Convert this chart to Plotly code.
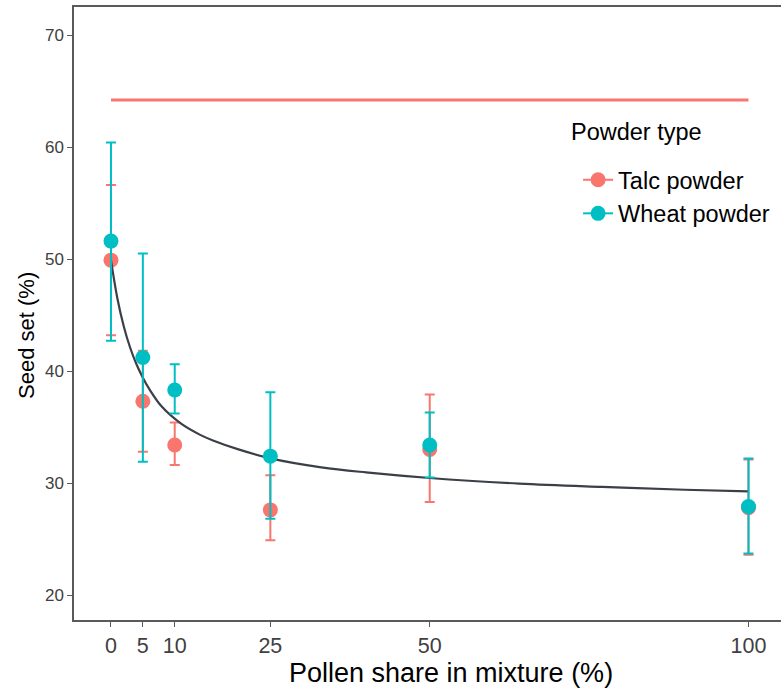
import plotly.graph_objects as go

# ---- data ----
x_levels = [0, 5, 10, 25, 50, 100]

talc_mean = [49.9, 37.3, 33.4, 27.6, 33.0, 27.8]
talc_lo = [43.2, 32.8, 31.6, 24.9, 28.3, 23.6]
talc_hi = [56.6, 41.8, 35.4, 30.7, 37.9, 32.1]

wheat_mean = [51.6, 41.2, 38.3, 32.4, 33.4, 27.9]
wheat_lo = [42.7, 31.9, 36.2, 26.8, 30.5, 23.7]
wheat_hi = [60.4, 50.5, 40.6, 38.1, 36.3, 32.2]

fit_x = [0, 1, 2, 3, 4, 5, 6, 8, 11, 14, 16, 20, 25, 33, 40, 50, 64, 77, 90, 100]
fit_y = [49.9, 46.5, 44.0, 42.1, 40.6, 39.4, 38.4, 36.8, 35.3, 34.3, 33.8, 33.0,
         32.2, 31.4, 30.95, 30.45, 29.95, 29.65, 29.4, 29.25]

ctrl_x = [0, 100]
ctrl_y = [64.2, 64.2]

y_ticks = [20, 30, 40, 50, 60, 70]
series_names = ["Talc powder", "Wheat powder"]
legend_title = "Powder type"
x_title = "Pollen share in mixture (%)"
y_title = "Seed set (%)"

TALC = "#F8766D"
WHEAT = "#00BFC4"
FONT = "Liberation Sans, Arial, Helvetica, sans-serif"

fig = go.Figure()

# control line
fig.add_trace(go.Scatter(x=ctrl_x, y=ctrl_y, mode="lines",
                         line=dict(color=TALC, width=3), showlegend=False,
                         hoverinfo="skip"))

def err(mean, lo, hi):
    plus = [h - m for m, h in zip(mean, hi)]
    minus = [m - l for m, l in zip(mean, lo)]
    return plus, minus

tp, tm = err(talc_mean, talc_lo, talc_hi)
fig.add_trace(go.Scatter(
    x=x_levels, y=talc_mean, mode="markers",
    marker=dict(color=TALC, size=15),
    error_y=dict(type="data", array=tp, arrayminus=tm, color=TALC,
                 thickness=2, width=5),
    showlegend=False))

fig.add_trace(go.Scatter(x=fit_x, y=fit_y, mode="lines", line_shape="spline",
                         line=dict(color="#3b3f48", width=2.2), showlegend=False))

wp, wm = err(wheat_mean, wheat_lo, wheat_hi)
fig.add_trace(go.Scatter(
    x=x_levels, y=wheat_mean, mode="markers",
    marker=dict(color=WHEAT, size=15),
    error_y=dict(type="data", array=wp, arrayminus=wm, color=WHEAT,
                 thickness=2, width=5),
    showlegend=False))

# legend entries
for name, col in zip(series_names, [TALC, WHEAT]):
    fig.add_trace(go.Scatter(x=[None], y=[None], mode="lines+markers", name=name,
                             line=dict(color=col, width=2),
                             marker=dict(color=col, size=15)))

fig.update_layout(
    width=781, height=691,
    margin=dict(l=74, r=0, t=7, b=71),
    plot_bgcolor="white", paper_bgcolor="white",
    font=dict(family=FONT, color="#000000"),
    legend=dict(
        font=dict(size=23.5, color="#000000"),
        x=0.713, y=(620 - 158) / 613, xanchor="left", yanchor="top",
        bgcolor="rgba(0,0,0,0)", itemwidth=30, tracegroupgap=0,
    ),
    xaxis=dict(
        range=[-5.8, 105.1], tickvals=x_levels, ticktext=[str(v) for v in x_levels],
        showline=True, mirror=True, linecolor="#5a5a5a", linewidth=1.5,
        ticks="outside", ticklen=5, tickcolor="#5a5a5a", tickwidth=1.2,
        tickfont=dict(size=21.5, color="#404040"),
        showgrid=False, zeroline=False,
    ),
    yaxis=dict(
        range=[17.77, 72.5], tickvals=y_ticks, ticktext=[str(v) for v in y_ticks],
        showline=True, mirror=False, linecolor="#5a5a5a", linewidth=1.5,
        ticks="outside", ticklen=5, tickcolor="#5a5a5a", tickwidth=1.2,
        tickfont=dict(size=17, color="#404040"),
        showgrid=False, zeroline=False,
    ),
    annotations=[
        dict(text=x_title, xref="paper", yref="paper", x=0.533, y=(620 - 673) / 613,
             xanchor="center", yanchor="middle", showarrow=False,
             font=dict(size=27, color="#000000")),
        dict(text=y_title, xref="paper", yref="paper", x=-0.0665, y=0.465,
             xanchor="center", yanchor="middle", textangle=-90, showarrow=False,
             font=dict(size=22, color="#000000")),
        dict(text=legend_title, xref="paper", yref="paper",
             x=(569 - 74) / 707, y=(620 - 132) / 613,
             xanchor="left", yanchor="middle", showarrow=False,
             font=dict(size=23.5, color="#000000")),
    ],
)

fig.write_html("out.html")
